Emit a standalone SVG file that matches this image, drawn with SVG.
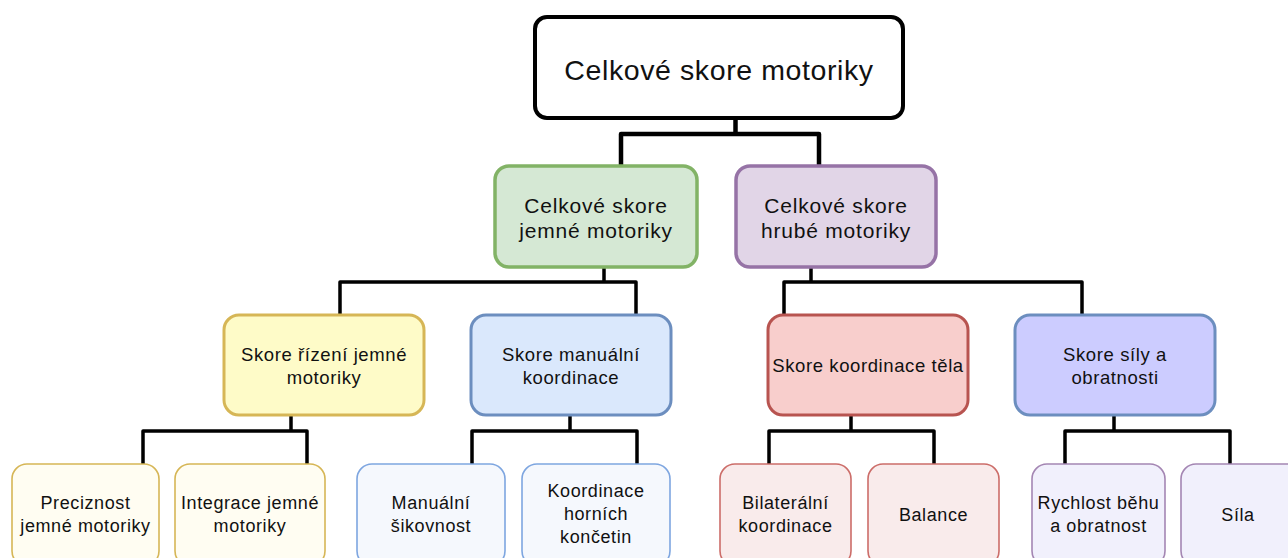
<svg xmlns="http://www.w3.org/2000/svg" width="1288" height="558" viewBox="0 0 1288 558">
<style>
text{font-family:"Liberation Sans",Arial,Helvetica,sans-serif;fill:#111;text-anchor:middle}
.t0{font-size:28.5px;letter-spacing:0.6px}
.t1{font-size:21px;letter-spacing:0.8px}
.t2{font-size:18.5px;letter-spacing:0.6px}
.t3{font-size:18px;letter-spacing:0.6px}
.conn path{fill:none;stroke:#000;stroke-linejoin:round}
.c0{stroke-width:4.5}
.c1{stroke-width:3.5}
.l2 rect{stroke-width:3}
.l3 rect{stroke-width:1.6}
</style>
<rect width="1288" height="558" fill="#fff"/>
<g class="conn" id="connectors">
<path class="c0" d="M735.5,118 V134 M621,165 V134 H819 V165"/>
<path class="c1" d="M604,267 V282 M340,315 V282 H636 V315"/>
<path class="c1" d="M811,267 V282 M784,315 V282 H1082 V315"/>
<path class="c1" d="M291,415 V431 M143,464 V431 H307 V464"/>
<path class="c1" d="M570,415 V431 M472,464 V431 H637 V464"/>
<path class="c1" d="M851,415 V431 M769,464 V431 H934 V464"/>
<path class="c1" d="M1114,415 V431 M1065,464 V431 H1230 V464"/>
</g>
<g id="root">
<rect x="535" y="17" width="368" height="101" rx="12" fill="#fff" stroke="#000" stroke-width="4"/>
<text class="t0" x="719" y="80">Celkové skore motoriky</text>
</g>
<g id="jemne">
<rect x="495" y="166" width="202" height="101" rx="14" fill="#d5e8d4" stroke="#82b366" stroke-width="3.5"/>
<text class="t1" x="596" y="213">Celkové skore</text>
<text class="t1" x="596" y="238">jemné motoriky</text>
</g>
<g id="hrube">
<rect x="736" y="166" width="200" height="101" rx="14" fill="#e1d5e7" stroke="#9673a6" stroke-width="3.5"/>
<text class="t1" x="836" y="213">Celkové skore</text>
<text class="t1" x="836" y="238">hrubé motoriky</text>
</g>
<g id="rizeni" class="l2">
<rect x="224" y="315" width="200" height="100" rx="15" fill="#fefbc8" stroke="#d6b656"/>
<text class="t2" x="324" y="361">Skore řízení jemné</text>
<text class="t2" x="324" y="384">motoriky</text>
</g>
<g id="manualni" class="l2">
<rect x="471" y="315" width="200" height="100" rx="15" fill="#dae8fc" stroke="#6c8ebf"/>
<text class="t2" x="571" y="361">Skore manuální</text>
<text class="t2" x="571" y="384">koordinace</text>
</g>
<g id="koordinace" class="l2">
<rect x="768" y="315" width="200" height="100" rx="15" fill="#f8cecc" stroke="#b85450"/>
<text class="t2" x="868" y="372">Skore koordinace těla</text>
</g>
<g id="sily" class="l2">
<rect x="1015" y="315" width="200" height="100" rx="15" fill="#ccccff" stroke="#6c8ebf"/>
<text class="t2" x="1115" y="361">Skore síly a</text>
<text class="t2" x="1115" y="384">obratnosti</text>
</g>
<g id="preciznost" class="l3">
<rect x="12" y="464" width="147" height="102" rx="15" fill="#fffdf2" stroke="#d6b656"/>
<text class="t3" x="85.5" y="509">Preciznost</text>
<text class="t3" x="85.5" y="532">jemné motoriky</text>
</g>
<g id="integrace" class="l3">
<rect x="175" y="464" width="150" height="102" rx="15" fill="#fffdf2" stroke="#d6b656"/>
<text class="t3" x="250" y="509">Integrace jemné</text>
<text class="t3" x="250" y="532">motoriky</text>
</g>
<g id="sikovnost" class="l3">
<rect x="357" y="464" width="148" height="102" rx="15" fill="#f5f8fd" stroke="#7ea6e0"/>
<text class="t3" x="431" y="509">Manuální</text>
<text class="t3" x="431" y="532">šikovnost</text>
</g>
<g id="koncetiny" class="l3">
<rect x="522" y="464" width="148" height="102" rx="15" fill="#f5f8fd" stroke="#7ea6e0"/>
<text class="t3" x="596" y="497">Koordinace</text>
<text class="t3" x="596" y="520">horních</text>
<text class="t3" x="596" y="543">končetin</text>
</g>
<g id="bilateralni" class="l3">
<rect x="720" y="464" width="131" height="102" rx="15" fill="#f9ebeb" stroke="#cc6d69"/>
<text class="t3" x="785.5" y="509">Bilaterální</text>
<text class="t3" x="785.5" y="532">koordinace</text>
</g>
<g id="balance" class="l3">
<rect x="868" y="464" width="131" height="102" rx="15" fill="#f9ebeb" stroke="#cc6d69"/>
<text class="t3" x="933.5" y="521">Balance</text>
</g>
<g id="rychlost" class="l3">
<rect x="1032" y="464" width="133" height="102" rx="15" fill="#f1f0fc" stroke="#a486b3"/>
<text class="t3" x="1098.5" y="509">Rychlost běhu</text>
<text class="t3" x="1098.5" y="532">a obratnost</text>
</g>
<g id="sila" class="l3">
<rect x="1181" y="464" width="133" height="102" rx="15" fill="#f1f0fc" stroke="#a486b3"/>
<text class="t3" x="1238" y="521">Síla</text>
</g>
</svg>
